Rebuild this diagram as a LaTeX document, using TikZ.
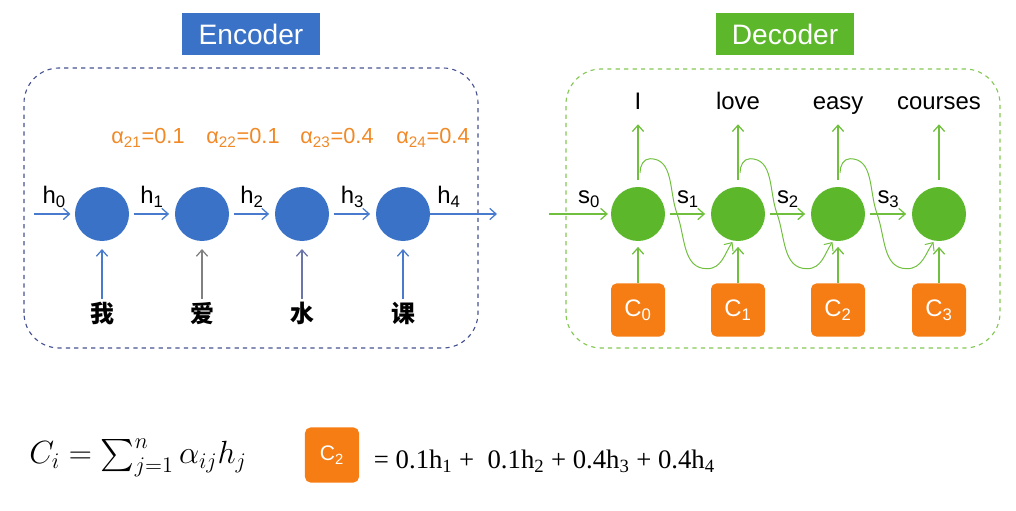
\documentclass[tikz,border=0pt]{standalone}
\usepackage{amsmath}
\usepackage{exscale}
\usepackage[no-math]{fontspec}
\setmainfont{Liberation Sans}
\newfontfamily\cjk{Noto Sans CJK SC}
\newfontfamily\serifnum{Liberation Serif}
\usetikzlibrary{arrows.meta, calc, positioning}
\definecolor{encblue}{RGB}{58,114,200}
\definecolor{encline}{RGB}{72,122,205}
\definecolor{encframe}{RGB}{70,82,145}
\definecolor{decgreen}{RGB}{92,184,42}
\definecolor{decline}{RGB}{112,192,62}
\definecolor{decframe}{RGB}{132,200,84}
\definecolor{ctxorange}{RGB}{245,125,20}
\definecolor{alphaorange}{RGB}{240,137,38}

\tikzset{
  arr/.style={-{Straight Barb[length=4.5pt,width=8pt]}, line width=0.9pt},
  frame/.style={dashed, line width=0.8pt, rounded corners=25pt},
  titlebox/.style={minimum width=3.43cm, minimum height=1.03cm, inner sep=0pt,
    text=white, font=\fontsize{20}{24}\selectfont},
  cellenc/.style={circle, fill=encblue, minimum size=1.35cm, inner sep=0pt},
  celldec/.style={circle, fill=decgreen, minimum size=1.35cm, inner sep=0pt},
  ctxbox/.style={rounded corners=4pt, fill=ctxorange, minimum width=1.35cm,
    minimum height=1.33cm, inner sep=0pt, text=white,
    font=\fontsize{17}{20}\selectfont},
  weight/.style={text=alphaorange, font=\fontsize{15.5}{19}\selectfont},
  hanzi/.style={font=\cjk\bfseries\fontsize{17}{20}\selectfont,
    text height=0.85em, text depth=0.1em, inner sep=0pt, outer sep=8pt},
  wordlabel/.style={text height=0.75em, text depth=0.25em, inner sep=0pt,
    outer sep=8pt},
}

\begin{document}
\begin{tikzpicture}[x=0.025cm, y=0.025cm, font=\fontsize{17}{20}\selectfont]
\useasboundingbox (0,0) rectangle (1016,511);

% ---- Titles ----
\node[titlebox, fill=encblue] (enctitle) at (251,477) {Encoder};
\node[titlebox, fill=decgreen] (dectitle) at (785,477) {Decoder};

% ---- Encoder ----
\draw[encframe, frame] (24,163) rectangle (478,443);
\foreach \i/\x in {1/102, 2/202, 3/302, 4/403}
  \node[cellenc] (e\i) at (\x,297) {};
\coordinate (hin) at (34,297);
\coordinate (hout) at (497,297);
\draw[arr, encline, shorten >=3pt] (hin) -- (e1)
  node[midway, above=1pt, text=black] {h\textsubscript{0}};
\foreach \a/\b in {1/2, 2/3, 3/4}
  \draw[arr, encline, shorten <=3pt, shorten >=4pt] (e\a) -- (e\b)
    node[midway, above=1pt, text=black] {h\textsubscript{\a}};
\draw[arr, encline] (e4) -- (hout)
  node[pos=0.28, above=1pt, text=black] {h\textsubscript{4}};

% attention weights
\foreach \j/\x/\v in {1/148/0.1, 2/243/0.1, 3/337/0.4, 4/433/0.4}
  \node[weight] (a\j) at (\x,373) {α\textsubscript{2\j}=\v};

% inputs
\foreach \i/\hz/\col in {1/我/encline, 2/爱/gray, 3/水/encframe!80, 4/课/encline}
  {
  \node[hanzi] (w\i) at ($(e\i)+(0,-103)$) {\hz};
  \draw[arr, \col, shorten >=5.5pt] (w\i) -- (e\i);
  }

% ---- Decoder ----
\draw[decframe, frame] (566,163) rectangle (1000,442);
\foreach \i/\x/\w in {0/638/I, 1/738/love, 2/838/easy, 3/939/courses}
  {
  \node[celldec] (d\i) at (\x,297) {};
  \node[ctxbox] (c\i) at (\x,201) {C\textsubscript{\i}};
  \node[wordlabel] (o\i) at (\x,405) {\w};
  \draw[arr, decline, shorten <=5pt] (d\i) -- (o\i);
  \draw[arr, decline, shorten >=4pt] (c\i) -- (d\i);
  }
\coordinate (sin) at (549,297);
\draw[arr, decline, shorten >=2pt] (sin) -- (d0)
  node[pos=0.65, above=1pt, text=black] {s\textsubscript{0}};
\foreach \a/\b in {0/1, 1/2, 2/3}
  {
  \draw[arr, decline, shorten <=3pt, shorten >=4pt] (d\a) -- (d\b)
    node[midway, above=1pt, text=black] {s\textsubscript{\b}};
  % state fed to the next step
  \draw[arr, decline, line width=0.7pt, shorten >=1pt]
    ($(d\a.north)+(2,14)$) to[out=90,in=180] ++(10,14)
    to[out=0,in=110] ++(27,-55) to[out=-70,in=180] ++(30,-55)
    to[out=0,in=-125] (d\b.-100);
  }

% ---- Context vector ----
\node[scale=1.1, transform shape] (sumf) at (138,53)
  {\fontsize{21}{25}\selectfont $C_i = \sum_{j=1}^{n} \alpha_{ij} h_j$};
\node[ctxbox, minimum height=1.38cm, font=\fontsize{15}{18}\selectfont] (cex) at (332,56) {C\textsubscript{2}};
\node[anchor=west, font=\serifnum\fontsize{19}{22}\selectfont] (expand) at (369,50)
  {= 0.1h\textsubscript{1} + \ 0.1h\textsubscript{2} + 0.4h\textsubscript{3} + 0.4h\textsubscript{4}};

\end{tikzpicture}
\end{document}
